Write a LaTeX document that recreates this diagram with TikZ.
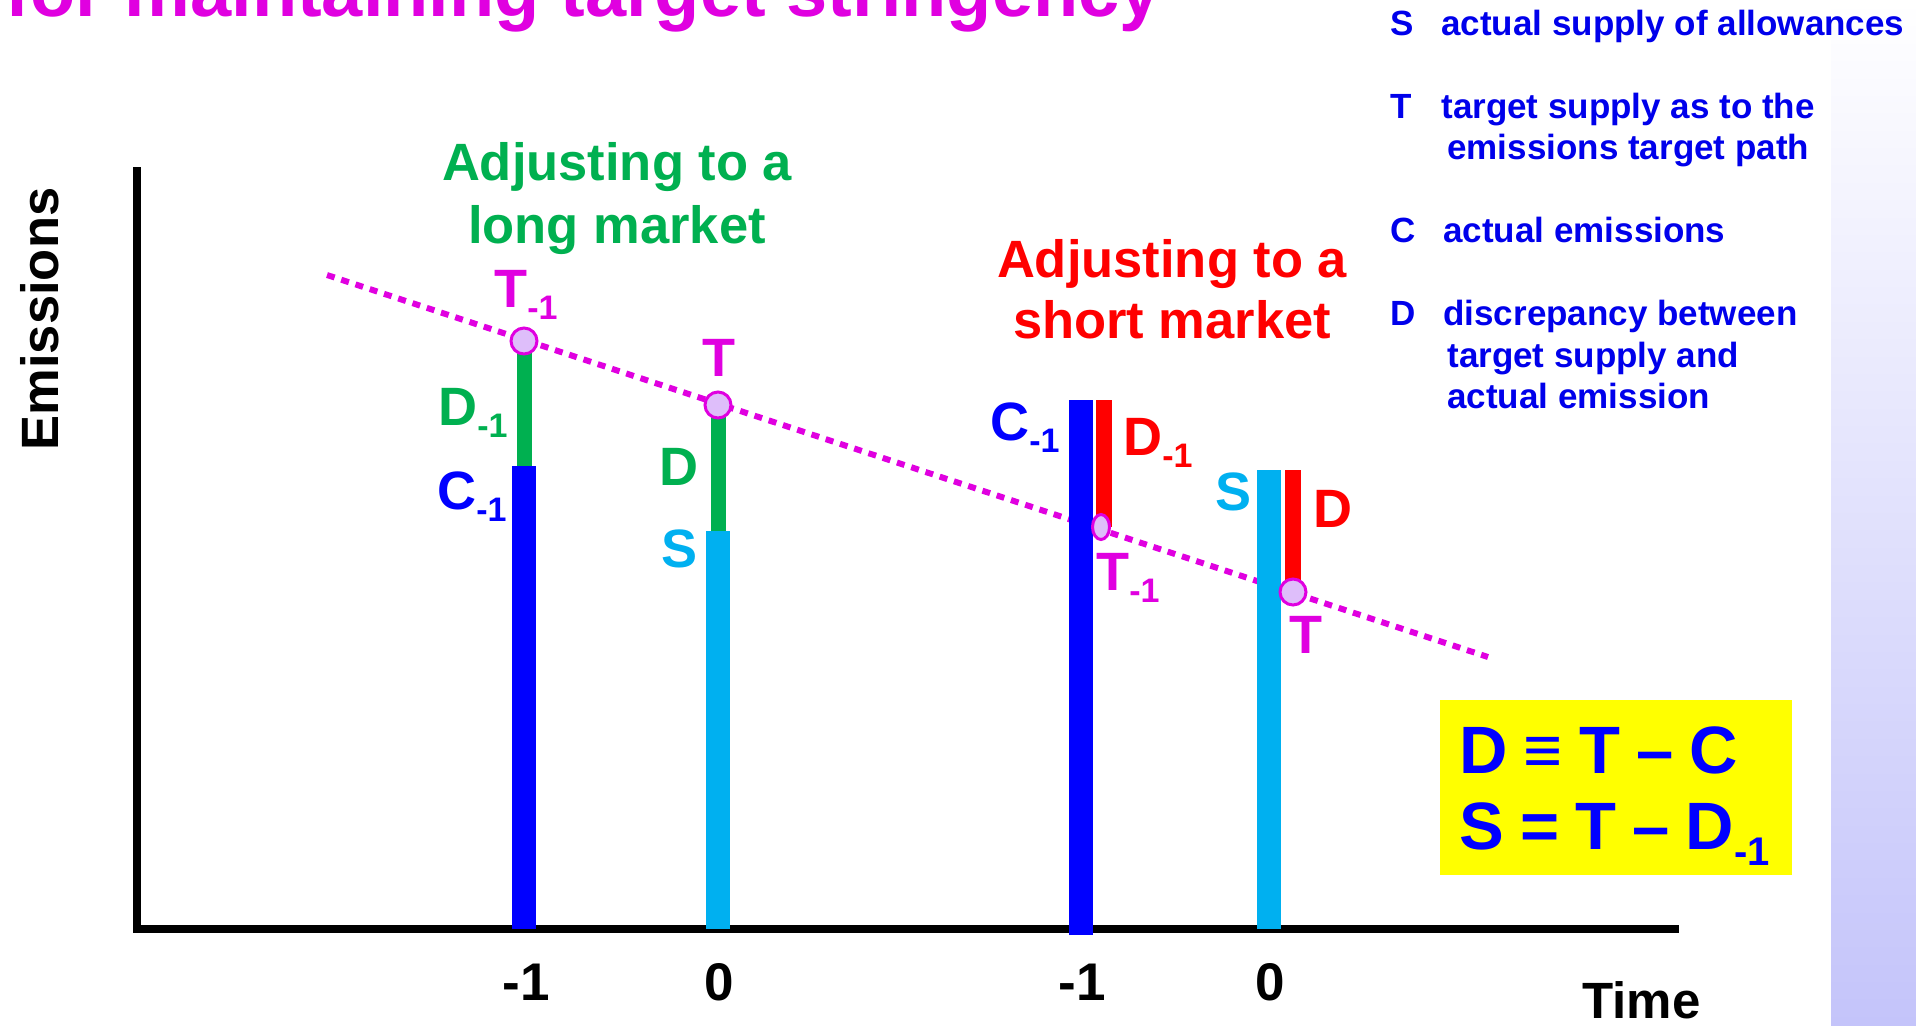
\documentclass[tikz,border=0pt]{standalone}
\usepackage{fontspec}
\setmainfont{Liberation Sans}
\usepackage{xcolor}
\usepackage{tikz}
\usetikzlibrary{shapes.geometric}

\definecolor{titlemag}{RGB}{224,0,224}
\definecolor{longgreen}{RGB}{0,176,80}
\definecolor{shortred}{RGB}{255,0,0}
\definecolor{emblue}{RGB}{0,0,255}
\definecolor{supcyan}{RGB}{0,176,240}
\definecolor{legblue}{RGB}{0,0,235}
\definecolor{markfill}{RGB}{222,190,250}
\definecolor{stripc}{RGB}{196,196,250}
\definecolor{eqyellow}{RGB}{255,255,0}

\newcommand{\lowidx}[1]{\raisebox{-6pt}{\fontsize{17}{17}\selectfont #1}}
\newcommand{\eqidx}[1]{\raisebox{-8pt}{\fontsize{20}{20}\selectfont #1}}
\newcommand{\eqsp}{\hspace{0.24em}}

\tikzset{
  lbl/.style={font=\fontsize{27}{27}\selectfont\bfseries, inner sep=0pt, anchor=base west},
  head/.style={font=\fontsize{26.25}{26.25}\selectfont\bfseries, inner sep=0pt, anchor=base},
  legkey/.style={font=\fontsize{17.5}{17.5}\selectfont\bfseries, text=legblue, inner sep=0pt, anchor=base west},
  tick/.style={font=\fontsize{26.5}{26.5}\selectfont\bfseries, inner sep=0pt, anchor=base},
  eqline/.style={font=\fontsize{33.5}{33.5}\selectfont\bfseries, text=emblue, inner sep=0pt, anchor=base west},
  widebar/.style={line width=12pt},
  thinbar/.style={line width=7.5pt},
  redbar/.style={shortred, line width=8pt},
  target/.style={circle, draw=titlemag, fill=markfill, line width=1.5pt, minimum size=13pt, inner sep=0pt},
  targetpath/.style={titlemag, line width=3pt, dash pattern=on 4pt off 3.5pt}
}

\begin{document}
\begin{tikzpicture}[x=0.5pt,y=-0.5pt]
\useasboundingbox (0,0) rectangle (1916,1025);
\fill[white] (0,0) rectangle (1916,1025);
\shade[top color=white, bottom color=stripc] (1831,0) rectangle (1916,1025);

% title, cut off at the top of the slide
\node[font=\fontsize{37}{37}\selectfont\bfseries, text=titlemag, inner sep=0pt, anchor=base west] (title) at (5,16) {for maintaining target stringency};

% axes
\coordinate (origin) at (137,929);
\coordinate (ytop) at (137,167);
\coordinate (xend) at (1679,929);
\draw[line width=4pt] (ytop) -- (origin) -- (xend);
\node[font=\fontsize{26.25}{26.25}\selectfont\bfseries, rotate=90, inner sep=0pt, anchor=base] (emis) at (58,319) {Emissions};
\node[tick, anchor=base west, font=\fontsize{25.5}{25.5}\selectfont\bfseries] (time) at (1582,1018) {Time};
\foreach \x/\t [count=\i] in {526/-1,719/0,1082/-1,1270/0}
  \node[tick] (tick\i) at (\x,1000) {\t};

% emissions target path
\coordinate (pathL) at (327,275);
\coordinate (pathR) at (1488,657);
\draw[targetpath] (pathL) -- (pathR);

% long market
\draw[emblue, widebar] (524,929) -- (524,466);
\draw[longgreen, thinbar] (524,466) -- (524,341);
\draw[supcyan, widebar] (718,929) -- (718,531);
\draw[longgreen, thinbar] (718,531) -- (718,405);
\node[target] (tl1) at (524,341) {};
\node[target] (tl0) at (718,405) {};

% short market
\draw[emblue, widebar] (1081,935) -- (1081,400);
\draw[redbar] (1104,400) -- (1104,527);
\draw[supcyan, widebar] (1269,929) -- (1269,470);
\draw[redbar] (1293,470) -- (1293,592);
\node[target, ellipse, minimum width=8.5pt, minimum height=12.5pt] (ts1) at (1101,527) {};
\node[target] (ts0) at (1293,592) {};

% bar labels
\node[lbl, text=titlemag] (lT1) at (494,307) {T\lowidx{-1}};
\node[lbl, text=longgreen] (lD1) at (438,425) {D\lowidx{-1}};
\node[lbl, text=emblue] (lC1) at (437,509) {C\lowidx{-1}};
\node[lbl, text=titlemag] (lT0) at (702,376) {T};
\node[lbl, text=longgreen] (lD0) at (659,485) {D};
\node[lbl, text=supcyan] (lS0) at (661,567) {S};
\node[lbl, text=emblue] (sC1) at (990,440) {C\lowidx{-1}};
\node[lbl, text=shortred] (sD1) at (1123,455) {D\lowidx{-1}};
\node[lbl, text=titlemag] (sT1) at (1096,590) {T\lowidx{-1}};
\node[lbl, text=supcyan] (sS0) at (1215,510) {S};
\node[lbl, text=shortred] (sD0) at (1313,527) {D};
\node[lbl, text=titlemag] (sT0) at (1289,653) {T};

% headings
\node[head, text=longgreen] (longA) at (617,180) {Adjusting to a};
\node[head, text=longgreen] (longB) at (617,243) {long market};
\node[head, text=shortred] (shortA) at (1172,277) {Adjusting to a};
\node[head, text=shortred] (shortB) at (1172,338) {short market};

% legend
\node[legkey] (kS) at (1390,35) {S};
\node[legkey] (dS) at (1441,35) {actual supply of allowances};
\node[legkey] (kT) at (1390,118) {T};
\node[legkey] (dT) at (1441,118) {target supply as to the};
\node[legkey] (dT2) at (1447,159) {emissions target path};
\node[legkey] (kC) at (1390,242) {C};
\node[legkey] (dC) at (1443,242) {actual emissions};
\node[legkey] (kD) at (1390,325) {D};
\node[legkey] (dD) at (1443,325) {discrepancy between};
\node[legkey] (dD2) at (1447,367) {target supply and};
\node[legkey] (dD3) at (1447,408) {actual emission};

% identities
\fill[eqyellow] (1440,700) rectangle (1792,875);
\node[eqline] (eqD) at (1459,773) {D\eqsp≡\eqsp T\eqsp–\eqsp C};
\node[eqline] (eqS) at (1459,849) {S\eqsp=\eqsp T\eqsp–\eqsp D\eqidx{-1}};
\end{tikzpicture}
\end{document}
